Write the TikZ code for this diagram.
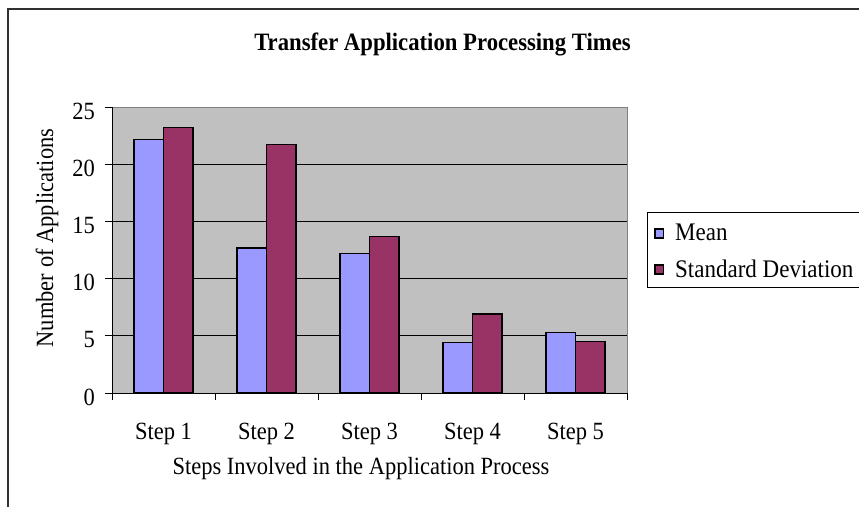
\documentclass[tikz,border=0pt]{standalone}
\usepackage{graphicx}
\usepackage{fontspec}
\setmainfont{Liberation Serif}
\definecolor{meanc}{HTML}{9999FF}
\definecolor{sdc}{HTML}{993366}
\definecolor{plotbg}{HTML}{C0C0C0}
\definecolor{plotedge}{HTML}{808080}
\definecolor{framec}{HTML}{303030}
\newcommand{\tallt}[1]{\scalebox{1}[1.1]{#1}}
\tikzset{
  bar/.style={draw=black, line width=1.3pt},
  lbl/.style={inner sep=0pt, font=\fontsize{22.5}{27}\selectfont},
  ticklbl/.style={lbl, anchor=base east},
  catlbl/.style={lbl, anchor=base},
  swatch/.style={draw=black, line width=1.2pt},
}
\begin{document}
\begin{tikzpicture}[x=1pt,y=-1pt]
\useasboundingbox (0,0) rectangle (859,506);
\clip (0,0) rectangle (859,506);
% outer frame
\draw[framec, line width=2pt] (7.5,520) -- (7.5,8.5) -- (880,8.5);
% title
\node[inner sep=0pt, anchor=base, font=\fontsize{22.7}{27}\selectfont\bfseries] (title) at (442.5,50) {\tallt{Transfer Application Processing Times}};
% plot area
\fill[plotbg] (112,107) rectangle (627,393);
\foreach \v in {5,10,15,20} \draw[black, line width=0.8pt] (112,{393-11.44*\v}) -- (627,{393-11.44*\v});
\draw[plotedge, line width=1pt] (112,107) -- (627,107) -- (627,393);
% bars
\foreach \i/\m/\s in {0/22.14/23.2, 1/12.67/21.7, 2/12.2/13.7, 3/4.4/6.9, 4/5.3/4.5} {
  \pgfmathsetmacro\c{163.5+103*\i}
  \draw[bar, fill=meanc] ({\c-29.5},393) rectangle (\c,{393-11.44*\m});
  \draw[bar, fill=sdc] (\c,393) rectangle ({\c+29.5},{393-11.44*\s});
}
% axes
\draw[black, line width=1pt] (112,107) -- (112,393) -- (627,393);
\foreach \v in {0,5,10,15,20,25} {
  \draw[black, line width=1pt] (105,{393-11.44*\v}) -- (112,{393-11.44*\v});
  \node[ticklbl] (y\v) at (95,{393-11.44*\v+12}) {\tallt{\v}};
}
\foreach \i in {0,...,5} \draw[black, line width=1pt] ({112+103*\i},393) -- ({112+103*\i},400);
\foreach \i in {1,...,5} \node[catlbl] (s\i) at ({163.5+103*(\i-1)},439) {\tallt{Step \i}};
% axis titles
\node[lbl, anchor=base] (xlab) at (361,474) {\tallt{Steps Involved in the Application Process}};
\node[lbl, anchor=base, rotate=90] (ylab) at (53,238) {\tallt{Number of Applications}};
% legend
\draw[black, line width=1pt, fill=white] (647,212) rectangle (880,287);
\draw[swatch, fill=meanc] (655,229) rectangle (663.5,238);
\draw[swatch, fill=sdc] (655,265) rectangle (663.5,274);
\node[lbl, anchor=base west, font=\fontsize{23}{27}\selectfont] (lmean) at (675,240) {\tallt{Mean}};
\node[lbl, anchor=base west, font=\fontsize{23}{27}\selectfont] (lsd) at (675,277) {\tallt{Standard Deviation}};
\end{tikzpicture}
\end{document}
